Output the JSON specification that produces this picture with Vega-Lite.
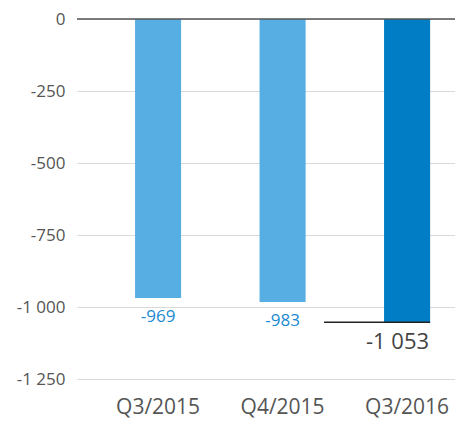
{
  "$schema": "https://vega.github.io/schema/vega-lite/v6.json",
  "width": 378,
  "height": 360,
  "autosize": {"type": "none"},
  "padding": {"left": 77, "top": 19, "right": 0, "bottom": 42},
  "config": {"view": {"stroke": null}, "font": "Open Sans"},
  "data": {
    "values": [
      {"quarter": "Q3/2015", "value": -969, "kind": "past"},
      {"quarter": "Q4/2015", "value": -983, "kind": "past"},
      {"quarter": "Q3/2016", "value": -1053, "kind": "current"}
    ]
  },
  "layer": [
    {
      "mark": {"type": "bar"},
      "encoding": {
        "x": {
          "field": "quarter",
          "type": "nominal",
          "sort": null,
          "scale": {"paddingInner": 0.63, "paddingOuter": 0.333, "align": 0.7},
          "axis": {
            "title": null,
            "labelAngle": 0,
            "domain": false,
            "ticks": false,
            "labelFontSize": 21,
            "labelColor": "#555555",
            "labelPadding": 17
          }
        },
        "y": {
          "field": "value",
          "type": "quantitative",
          "scale": {"domain": [-1250, 0], "nice": false, "zero": true},
          "axis": {
            "title": null,
            "values": [0, -250, -500, -750, -1000, -1250],
            "labelExpr": "(datum.value < 0 ? '-' : '') + replace(format(abs(datum.value), ','), ',', ' ')",
            "domain": false,
            "ticks": false,
            "grid": true,
            "gridColor": "#d9d9d9",
            "gridWidth": 1,
            "labelFontSize": 17,
            "labelColor": "#555555",
            "labelPadding": 12
          }
        },
        "color": {
          "field": "kind",
          "type": "nominal",
          "scale": {"domain": ["past", "current"], "range": ["#57aee2", "#007dc4"]},
          "legend": null
        }
      }
    },
    {
      "data": {"values": [{"zero": 0}]},
      "mark": {"type": "rule", "color": "#555555", "strokeWidth": 1.5},
      "encoding": {"y": {"field": "zero", "type": "quantitative"}}
    },
    {
      "transform": [{"filter": "datum.kind == 'current'"}],
      "mark": {"type": "rule", "color": "#222222", "strokeWidth": 1.5, "xOffset": -60, "x2Offset": 0},
      "encoding": {
        "x": {"field": "quarter", "type": "nominal", "sort": null, "bandPosition": 0},
        "x2": {"field": "quarter", "bandPosition": 1},
        "y": {"field": "value", "type": "quantitative"}
      }
    },
    {
      "transform": [
        {"filter": "datum.kind == 'past'"},
        {"calculate": "'-' + replace(format(abs(datum.value), ','), ',', ' ')", "as": "lab"}
      ],
      "mark": {"type": "text", "baseline": "middle", "dy": 19, "fontSize": 17, "color": "#1a8ad0"},
      "encoding": {
        "x": {"field": "quarter", "type": "nominal", "sort": null},
        "y": {"field": "value", "type": "quantitative"},
        "text": {"field": "lab"}
      }
    },
    {
      "transform": [
        {"filter": "datum.kind == 'current'"},
        {"calculate": "'-' + replace(format(abs(datum.value), ','), ',', ' ')", "as": "lab"}
      ],
      "mark": {"type": "text", "baseline": "middle", "align": "right", "dy": 20, "dx": -1, "fontSize": 22, "color": "#444444"},
      "encoding": {
        "x": {"field": "quarter", "type": "nominal", "sort": null, "bandPosition": 1},
        "y": {"field": "value", "type": "quantitative"},
        "text": {"field": "lab"}
      }
    }
  ]
}
